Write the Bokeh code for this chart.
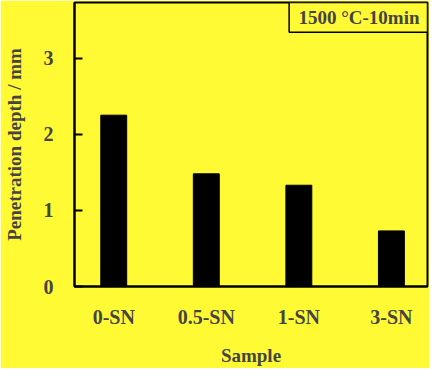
from bokeh.plotting import figure
from bokeh.models import Range1d, FixedTicker, BoxAnnotation, Label
from bokeh.embed import file_html
from bokeh.resources import INLINE

samples = ["0-SN", "0.5-SN", "1-SN", "3-SN"]
depth = [2.25, 1.48, 1.33, 0.73]
y_ticks = [0, 1, 2, 3]
inset_text = "1500 °C-10min"

YEL = "#FFFA33"
FONT = "Liberation Serif"

xs = list(range(len(samples)))

p = figure(width=429, height=368, output_backend="svg", toolbar_location=None,
           x_range=Range1d(-0.424, 3.39), y_range=Range1d(0, 3.73),
           min_border_left=74, min_border_right=2, min_border_top=2, min_border_bottom=77)

p.background_fill_color = YEL
p.border_fill_color = YEL
p.outline_line_color = "black"
p.outline_line_width = 2
p.grid.visible = False

p.vbar(x=xs, top=depth, width=0.28, bottom=0, fill_color="black", line_color="black")

# y axis
ya = p.yaxis[0]
ya.ticker = FixedTicker(ticks=y_ticks)
ya.major_tick_in = 8
ya.major_tick_out = 0
ya.major_tick_line_width = 2
ya.minor_tick_line_color = None
ya.axis_line_width = 2
ya.major_label_text_font = FONT
ya.major_label_text_font_style = "bold"
ya.major_label_text_font_size = "20px"
ya.major_label_standoff = 21
ya.axis_label = "Penetration depth / mm"
ya.axis_label_text_font = FONT
ya.axis_label_text_font_style = "bold"
ya.axis_label_text_font_size = "19px"
ya.axis_label_standoff = 16

# x axis
xa = p.xaxis[0]
xa.ticker = FixedTicker(ticks=xs)
xa.major_label_overrides = {i: s for i, s in zip(xs, samples)}
xa.major_tick_line_color = None
xa.minor_tick_line_color = None
xa.axis_line_width = 2
xa.major_label_text_font = FONT
xa.major_label_text_font_style = "bold"
xa.major_label_text_font_size = "20px"
xa.major_label_standoff = 13
xa.axis_label = "Sample"
xa.axis_label_text_font = FONT
xa.axis_label_text_font_style = "bold"
xa.axis_label_text_font_size = "19px"
xa.axis_label_standoff = 14

# inset box
box = BoxAnnotation(left=1.895, right=3.39, top=3.73, bottom=3.34,
                    fill_color=YEL, fill_alpha=1.0, line_color="black",
                    line_alpha=1.0, line_width=1.5)
p.add_layout(box)
p.add_layout(Label(x=2.65, y=3.535, text=inset_text, text_font=FONT,
                   text_font_style="bold", text_font_size="19px",
                   text_align="center", text_baseline="middle"))

open("out.html", "w").write(file_html(p, INLINE))
